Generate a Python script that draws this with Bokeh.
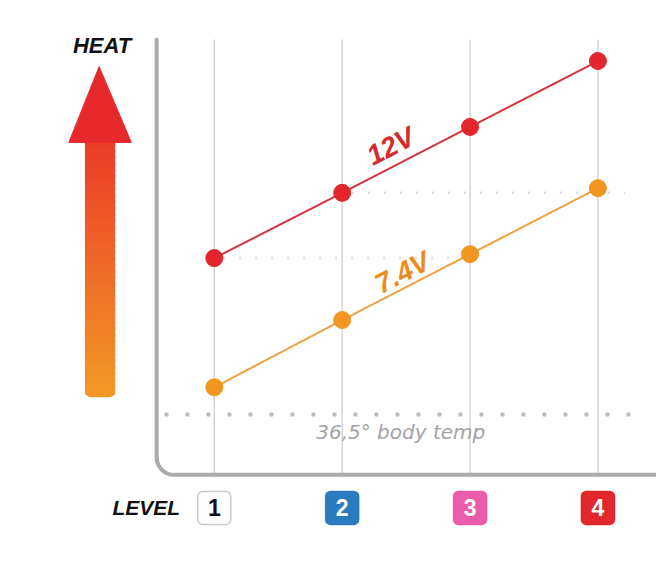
import numpy as np
from bokeh.plotting import figure
from bokeh.models import Range1d
from bokeh.core.properties import value
from bokeh.embed import file_html
from bokeh.resources import INLINE

# ---------------- data ----------------
levels = [1, 2, 3, 4]
level_labels = ["1", "2", "3", "4"]
level_colors = ["#ffffff", "#2b7bbf", "#e95da9", "#e2282c"]
level_line_colors = ["#c9c9c9", "#2b7bbf", "#e95da9", "#e2282c"]
level_text_colors = ["#111111", "#ffffff", "#ffffff", "#ffffff"]
heat_12v = [23.5, 33.3, 43.2, 53.1]      # relative heat index (body temp = 0)
heat_7v4 = [4.1, 14.2, 24.1, 34.0]
series_names = ["12V", "7.4V"]
series_colors = ["#e3262d", "#f2961f"]
series_line_colors = ["#d5343a", "#f0a040"]
series_text_colors = ["#d42a30", "#ec8c1e"]
body_temp = 0.0
body_temp_label = "36,5° body temp"
y_title = "HEAT"
x_title = "LEVEL"

# ---------------- layout helpers (decoration placement only) ----------------
REF_W, REF_H = 672, 573          # reference picture size
PX_L1, PX_DL = 219.0, 131.0      # picture x of level 1, picture px per level
PY_BT, PY_DH = 426.0, 6.85       # picture y of body temp, picture px per heat unit
W, H = 656, 557


def lx(px):
    return 1 + (px - PX_L1) / PX_DL


def hy(py):
    return (PY_BT - py) / PY_DH


p = figure(width=W, height=H,
           x_range=Range1d(lx(0), lx(REF_W)),
           y_range=Range1d(hy(REF_H), hy(0)),
           output_backend="svg", toolbar_location=None, min_border=0)
p.axis.visible = False
p.grid.visible = False
p.outline_line_color = None
p.background_fill_color = "white"
p.border_fill_color = "white"

FONT = value("Liberation Sans")

# vertical grid lines at each level
p.segment(x0=levels, y0=[hy(490)] * 4, x1=levels, y1=[hy(40)] * 4,
          line_color="#cfcfcf", line_width=1.3)

# faint guide dots
p.line([lx(228), lx(470)], [heat_12v[0], heat_12v[0]], line_color="#d9dee4",
       line_width=2.5, line_dash="2 14")
p.line([lx(360), lx(640)], [heat_12v[1], heat_12v[1]], line_color="#d9dee4",
       line_width=2.5, line_dash="2 14")

# body temperature dotted line
p.line([lx(170), lx(645)], [body_temp, body_temp], line_color="#bdbdbd",
       line_width=4.5, line_dash="0 21", line_cap="round")
p.text(x=[lx(410)], y=[hy(444)], text=[body_temp_label],
       text_font=value("DejaVu Sans"), text_font_style="italic",
       text_font_size="20px", text_color="#a3a3a3",
       text_align="center", text_baseline="middle")

# L-shaped axis with rounded corner
t = np.linspace(np.pi, np.pi / 2, 20)
ax_px = np.concatenate([[160], 178 + 18 * np.cos(t), [672]])
ax_py = np.concatenate([[40], 470 + 18 * np.sin(t), [488]])
p.line([lx(v) for v in ax_px], [hy(v) for v in ax_py],
       line_color="#ababab", line_width=4, line_cap="round")

# series lines and markers
for vals, name, col, lcol, tcol, (apx, apy) in zip(
        [heat_12v, heat_7v4], series_names, series_colors, series_line_colors,
        series_text_colors, [(407, 164), (419, 294)]):
    p.line(levels, vals, line_color=lcol, line_width=2)
    p.scatter(levels, vals, size=17, fill_color=col, line_color=col)
    p.text(x=[lx(apx)], y=[hy(apy)], text=[name], angle=np.arctan(68 / 131.0),
           text_font=FONT, text_font_style="bold italic", text_font_size="28px",
           text_color=tcol, text_align="center", text_baseline="bottom")

# heat arrow: gradient shaft + red head
n = 40
top, bot = 140.0, 402.0
edges = np.linspace(top, bot, n + 1)
c0 = np.array([235, 60, 42])
c1 = np.array([243, 150, 38])
cols = []
for i in range(n):
    f = i / (n - 1)
    c = (c0 + (c1 - c0) * f).astype(int)
    cols.append("#%02x%02x%02x" % tuple(c))
p.quad(left=[lx(87)] * n, right=[lx(117)] * n,
       top=[hy(v) for v in edges[:-1]], bottom=[hy(v + 3) for v in edges[1:]],
       fill_color=cols, line_color=cols, line_width=1)
p.rect(x=[lx(102)], y=[hy(401)], width=29, height=14, width_units="screen",
       height_units="screen", fill_color=cols[-1], line_color=None, border_radius=5)
p.patch([lx(70), lx(101), lx(134)], [hy(146), hy(68), hy(146)],
        fill_color="#e8292b", line_color="#e8292b")
p.text(x=[lx(104)], y=[hy(46)], text=[y_title], text_font=FONT,
       text_font_style="bold italic", text_font_size="22px", text_color="#111111",
       text_align="center", text_baseline="middle")

# level boxes along the bottom
yb = hy(522)
p.rect(x=levels, y=[yb] * 4, width=33, height=33, width_units="screen",
       height_units="screen", fill_color=level_colors, line_color=level_line_colors,
       line_width=1.5, border_radius=5)
p.text(x=levels, y=[yb + 0.1] * 4, text=level_labels, text_font=FONT,
       text_font_style="bold", text_font_size="23px", text_color=level_text_colors,
       text_align="center", text_baseline="middle")
p.text(x=[lx(184)], y=[yb], text=[x_title], text_font=FONT,
       text_font_style="bold italic", text_font_size="21px", text_color="#111111",
       text_align="right", text_baseline="middle")

open("out.html", "w").write(file_html(p, INLINE))
